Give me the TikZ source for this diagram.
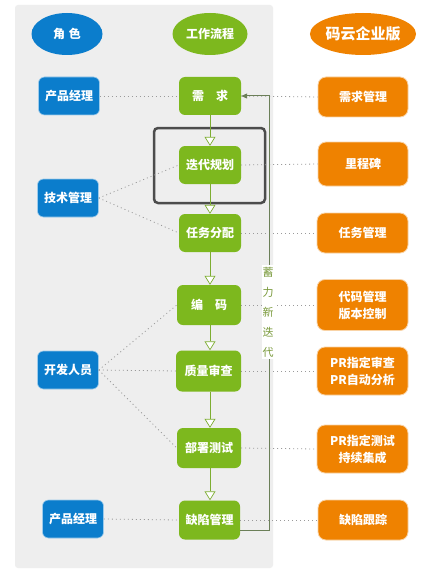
\documentclass[tikz,border=0pt]{standalone}
\usepackage{fontspec}
\setmainfont{Noto Sans CJK SC}
\usetikzlibrary{arrows.meta,shapes.geometric}
\definecolor{cblue}{HTML}{0B7DCC}
\definecolor{cgreen}{HTML}{7DB81E}
\definecolor{corange}{HTML}{EF8200}
\definecolor{cbg}{HTML}{EEEEEE}
\definecolor{cdot}{HTML}{9A9A9A}
\definecolor{cfb}{HTML}{6B7F58}
\definecolor{clbl}{HTML}{7A9A3C}
\begin{document}
\begin{tikzpicture}[x=1pt,y=-1pt,
  every node/.style={font=\bfseries\fontsize{12}{14}\selectfont, text=white, inner sep=0pt},
  hdr/.style={ellipse, minimum width=71pt, minimum height=42pt},
  rolebox/.style={fill=cblue, draw=cblue!40, line width=0.6pt, rounded corners=6pt, minimum width=61pt, minimum height=38pt},
  flowbox/.style={fill=cgreen, rounded corners=6pt, minimum width=62pt, minimum height=38pt},
  toolbox/.style={fill=corange, draw=corange!35, line width=0.8pt, rounded corners=8pt, minimum width=90pt, minimum height=40pt, align=center, font=\bfseries\fontsize{12}{17}\selectfont},
  dotline/.style={cdot, line width=0.8pt, dash pattern=on 1pt off 3pt},
  flowarrow/.style={cgreen!80!gray, line width=0.7pt, -{Triangle[open, length=9pt, width=11pt, fill=white]}},
  fbline/.style={cfb, line width=1pt, -{Triangle[length=6pt, width=5pt]}}
]
\useasboundingbox (0,0) rectangle (423,575);
\fill[white] (0,0) rectangle (423,575);
\fill[cbg, rounded corners=3pt] (15,5) rectangle (273,568);

% headers
\node[hdr, fill=cblue] (h1) at (67,34) {角\,\,色};
\node[hdr, fill=cgreen, minimum width=75pt] (h2) at (210,34) {工作流程};
\node[hdr, fill=corange, minimum width=97pt, font=\bfseries\fontsize{15}{17}\selectfont] (h3) at (363,34) {码云企业版};

% roles
\node[rolebox] (r1) at (69,96) {产品经理};
\node[rolebox] (r2) at (68,198) {技术管理};
\node[rolebox] (r3) at (68,370) {开发人员};
\node[rolebox] (r4) at (73,519) {产品经理};

% flow
\node[flowbox] (f1) at (210,96) {需\quad 求};
\node[flowbox] (f2) at (210,165) {迭代规划};
\node[flowbox] (f3) at (210,233) {任务分配};
\node[flowbox, minimum width=64pt, minimum height=40pt] (f4) at (209,305) {编\quad 码};
\node[flowbox, minimum width=65pt, minimum height=41pt] (f5) at (208.5,371) {质量审查};
\node[flowbox, minimum width=64pt, minimum height=40pt] (f6) at (209,448) {部署测试};
\node[flowbox, minimum width=61pt, minimum height=39pt] (f7) at (209.5,520) {缺陷管理};

% tools
\node[toolbox] (t1) at (363,97) {需求管理};
\node[toolbox, minimum height=44pt] (t2) at (363,164) {里程碑};
\node[toolbox, minimum width=91pt] (t3) at (362.5,233) {任务管理};
\node[toolbox, minimum width=91pt, minimum height=51pt] (t4) at (362.5,305) {代码管理\\版本控制};
\node[toolbox, minimum width=91pt, minimum height=48pt] (t5) at (362.5,371) {PR指定审查\\PR自动分析};
\node[toolbox, minimum width=91pt, minimum height=48pt] (t6) at (362.5,449) {PR指定测试\\持续集成};
\node[toolbox] (t7) at (363,520) {缺陷跟踪};

% highlight frame
\draw[black!70, line width=2.5pt, rounded corners=4pt] (154,128) rectangle (265,203);

% dotted connectors
\draw[dotline] (r1.east) -- (f1.west);
\draw[dotline] (r2.east) -- (f2.west);
\draw[dotline] (r2.east) -- (f3.west);
\draw[dotline] (r3.east) -- (f4.west);
\draw[dotline] (r3.east) -- (f5.west);
\draw[dotline] (r3.east) -- (f6.west);
\draw[dotline] (r4.east) -- (f7.west);
\draw[dotline] (f1.east) -- (t1.west);
\draw[dotline] (f2.east) -- (t2.west);
\draw[dotline] (f3.east) -- (t3.west);
\draw[dotline] (f4.east) -- (t4.west);
\draw[dotline] (f5.east) -- (t5.west);
\draw[dotline] (f6.east) -- (t6.west);
\draw[dotline] (f7.east) -- (t7.west);

% flow arrows
\draw[flowarrow] (f1) -- (f2);
\draw[flowarrow] (f2) -- (f3);
\draw[flowarrow] (f3.south) -- (f3.south |- f4.north);
\draw[flowarrow] (f4.south -| f3.south) -- (f3.south |- f5.north);
\draw[flowarrow] (f5.south -| f3.south) -- (f3.south |- f6.north);
\draw[flowarrow] (f6.south -| f3.south) -- (f3.south |- f7.north);

% feedback loop
\coordinate (fbA) at (269,530);
\coordinate (fbB) at (269,96);
\draw[fbline] ([yshift=-10pt]f7.east) -- (fbA) -- (fbB) -- (f1.east);
\node[fill=white, text=clbl, align=center, inner xsep=1pt, inner ysep=2pt, font=\fontsize{11}{20}\selectfont] (lbl) at (268,312) {蓄\\力\\新\\迭\\代};
\end{tikzpicture}
\end{document}
